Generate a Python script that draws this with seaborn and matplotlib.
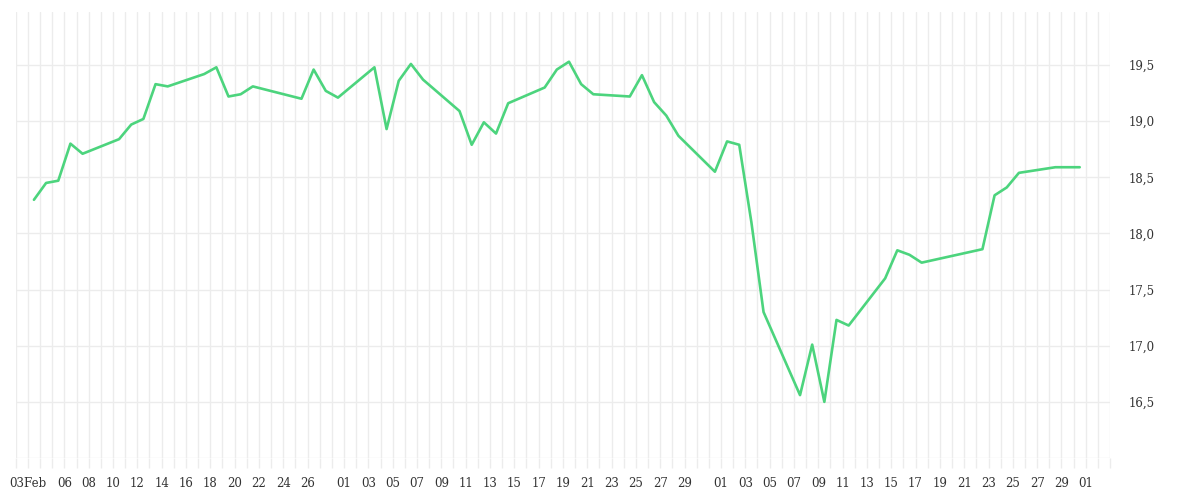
import pandas as pd
import matplotlib.pyplot as plt
import matplotlib.dates as mdates
import matplotlib.ticker as mticker
import seaborn as sns

sns.set_theme(style="white")
plt.rcParams['font.family'] = ['DejaVu Serif']

# Daily closing prices (trading days, 2025)
dates = [
    '2025-02-03', '2025-02-04', '2025-02-05', '2025-02-06', '2025-02-07',
    '2025-02-10', '2025-02-11', '2025-02-12', '2025-02-13', '2025-02-14',
    '2025-02-17', '2025-02-18', '2025-02-19', '2025-02-20', '2025-02-21',
    '2025-02-25', '2025-02-26', '2025-02-27', '2025-02-28',
    '2025-03-03', '2025-03-04', '2025-03-05', '2025-03-06', '2025-03-07',
    '2025-03-10', '2025-03-11', '2025-03-12', '2025-03-13', '2025-03-14',
    '2025-03-17', '2025-03-18', '2025-03-19', '2025-03-20', '2025-03-21',
    '2025-03-24', '2025-03-25', '2025-03-26', '2025-03-27', '2025-03-28',
    '2025-03-31', '2025-04-01', '2025-04-02', '2025-04-03', '2025-04-04',
    '2025-04-07', '2025-04-08', '2025-04-09', '2025-04-10', '2025-04-11',
    '2025-04-14', '2025-04-15', '2025-04-16', '2025-04-17',
    '2025-04-22', '2025-04-23', '2025-04-24', '2025-04-25',
    '2025-04-28', '2025-04-29', '2025-04-30',
]
prices = [
    18.30, 18.45, 18.47, 18.80, 18.71,
    18.84, 18.97, 19.02, 19.33, 19.31,
    19.42, 19.48, 19.22, 19.24, 19.31,
    19.20, 19.46, 19.27, 19.21,
    19.48, 18.93, 19.36, 19.51, 19.37,
    19.09, 18.79, 18.99, 18.89, 19.16,
    19.30, 19.46, 19.53, 19.33, 19.24,
    19.22, 19.41, 19.17, 19.05, 18.87,
    18.55, 18.82, 18.79, 18.10, 17.30,
    16.56, 17.01, 16.50, 17.23, 17.18,
    17.60, 17.85, 17.81, 17.74,
    17.86, 18.34, 18.41, 18.54,
    18.59, 18.59, 18.59,
]

# x tick labels
tick_dates = [
    '2025-02-03', '2025-02-06', '2025-02-08', '2025-02-10', '2025-02-12',
    '2025-02-14', '2025-02-16', '2025-02-18', '2025-02-20', '2025-02-22',
    '2025-02-24', '2025-02-26',
    '2025-03-01', '2025-03-03', '2025-03-05', '2025-03-07', '2025-03-09',
    '2025-03-11', '2025-03-13', '2025-03-15', '2025-03-17', '2025-03-19',
    '2025-03-21', '2025-03-23', '2025-03-25', '2025-03-27', '2025-03-29',
    '2025-04-01', '2025-04-03', '2025-04-05', '2025-04-07', '2025-04-09',
    '2025-04-11', '2025-04-13', '2025-04-15', '2025-04-17', '2025-04-19',
    '2025-04-21', '2025-04-23', '2025-04-25', '2025-04-27', '2025-04-29',
    '2025-05-01',
]
tick_labels = [
    '03Feb', '06', '08', '10', '12', '14', '16', '18', '20', '22', '24', '26',
    '01', '03', '05', '07', '09', '11', '13', '15', '17', '19', '21', '23',
    '25', '27', '29',
    '01', '03', '05', '07', '09', '11', '13', '15', '17', '19', '21', '23',
    '25', '27', '29',
    '01',
]
y_ticks = [16.0, 16.5, 17.0, 17.5, 18.0, 18.5, 19.0, 19.5]
y_labels = ['', '16,5', '17,0', '17,5', '18,0', '18,5', '19,0', '19,5']

df = pd.DataFrame({'date': pd.to_datetime(dates) + pd.Timedelta(hours=12),
                   'price': prices})

fig = plt.figure(figsize=(12, 5), dpi=100)
ax = fig.add_axes([15.7 / 1200, 42 / 500, 1094.5 / 1200, 445.7 / 500])

sns.lineplot(data=df, x='date', y='price', color='#4cd47d', linewidth=1.9, ax=ax)

ax.set_xlim(pd.Timestamp('2025-02-02'), pd.Timestamp('2025-05-03 00:10'))
ax.set_ylim(16.0, 19.97)

grid_col = '#ececec'
ax.xaxis.set_minor_locator(mdates.DayLocator())
ax.xaxis.set_major_locator(mticker.FixedLocator(mdates.date2num(pd.to_datetime(tick_dates))))
ax.xaxis.set_major_formatter(mticker.FixedFormatter(tick_labels))
ax.grid(True, which='both', axis='x', color=grid_col, linewidth=1)
ax.grid(True, which='major', axis='y', color=grid_col, linewidth=1)
ax.set_axisbelow(True)

ax.yaxis.tick_right()
ax.set_yticks(y_ticks)
ax.set_yticklabels(y_labels)

ax.tick_params(axis='x', which='both', bottom=True, length=7.2, width=1,
               color=grid_col, pad=6.5, labelsize=8.5, labelcolor='#333333')
ax.tick_params(axis='y', right=True, length=0, pad=13, labelsize=8.5,
               labelcolor='#333333')

sns.despine(ax=ax, left=True, right=True, top=True, bottom=True)
ax.set_xlabel('')
ax.set_ylabel('')

fig.savefig('out.png', dpi=100)
